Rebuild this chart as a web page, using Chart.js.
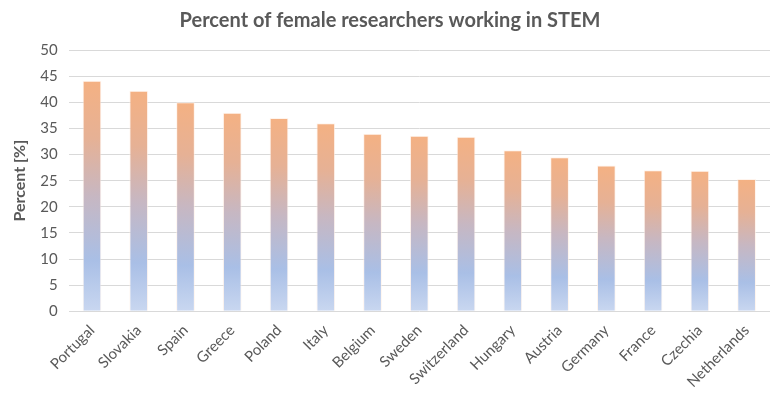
<!DOCTYPE html>
<html>
<head>
<meta charset="utf-8">
<script src="https://cdn.jsdelivr.net/npm/chart.js@4"></script>
<style>
  body { margin: 0; background: #fff; }
  #wrap { width: 780px; height: 399px; }
</style>
</head>
<body>
<div id="wrap"><canvas id="myChart"></canvas></div>
<script>
const countries = ['Portugal', 'Slovakia', 'Spain', 'Greece', 'Poland', 'Italy', 'Belgium', 'Sweden',
  'Switzerland', 'Hungary', 'Austria', 'Germany', 'France', 'Czechia', 'Netherlands'];
const percentFemale = [44.1, 42.2, 40.0, 38.0, 37.0, 36.0, 34.0, 33.6, 33.4, 30.8, 29.5, 27.9, 27.0, 26.9, 25.3];
const yTicks = [0, 5, 10, 15, 20, 25, 30, 35, 40, 45, 50];

const fontFam = 'Lato, "Open Sans", sans-serif';
const grey = '#595959';

// degradé par barre : orange en haut, bleu en bas
function barGradient(context) {
  const chart = context.chart;
  const y = chart.scales.y;
  if (!y || context.raw === undefined) return '#F4B183';
  const top = y.getPixelForValue(context.raw);
  const base = y.getPixelForValue(0);
  if (!isFinite(top) || !isFinite(base) || top === base) return '#F4B183';
  const g = chart.ctx.createLinearGradient(0, top, 0, base);
  g.addColorStop(0, '#F4B183');
  g.addColorStop(0.25, '#E6B195');
  g.addColorStop(0.5, '#C7B7C2');
  g.addColorStop(0.78, '#A9BFE6');
  g.addColorStop(1, '#C9D7F0');
  return g;
}

const ctx = document.getElementById('myChart').getContext('2d');
new Chart(ctx, {
  type: 'bar',
  data: {
    labels: countries,
    datasets: [{
      label: 'Percent',
      data: percentFemale,
      backgroundColor: barGradient,
      borderColor: 'rgba(255,240,230,0.7)',
      borderWidth: 1,
      barPercentage: 0.4,
      categoryPercentage: 1.0
    }]
  },
  options: {
    responsive: true,
    maintainAspectRatio: false,
    animation: false,
    layout: { padding: { left: 10, right: 10, top: 0, bottom: 6 } },
    plugins: {
      legend: { display: false },
      tooltip: { enabled: false },
      title: {
        display: true,
        text: 'Percent of female researchers working in STEM',
        color: grey,
        font: { family: fontFam, size: 20, weight: 'bold' },
        padding: { top: 9, bottom: 17 }
      }
    },
    scales: {
      x: {
        grid: { display: false },
        border: { display: false },
        ticks: {
          color: grey,
          font: { family: fontFam, size: 15 },
          minRotation: 45,
          maxRotation: 45,
          autoSkip: false,
          padding: 2
        }
      },
      y: {
        min: 0,
        max: 50,
        afterBuildTicks: axis => { axis.ticks = yTicks.map(v => ({ value: v })); },
        grid: { color: '#D9D9D9', lineWidth: 1, drawTicks: false },
        border: { display: false },
        ticks: {
          color: grey,
          font: { family: fontFam, size: 15 },
          padding: 11
        },
        title: {
          display: true,
          text: 'Percent [%]',
          color: grey,
          font: { family: fontFam, size: 16, weight: 'bold' },
          padding: { top: 0, bottom: 0 }
        }
      }
    }
  }
});
</script>
</body>
</html>
